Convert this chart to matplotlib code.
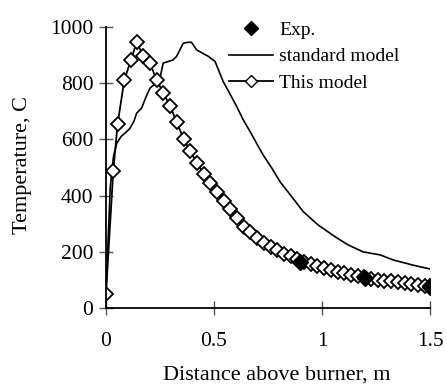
import matplotlib
matplotlib.use('Agg')
import matplotlib.pyplot as plt
from matplotlib.lines import Line2D

plt.rcParams['font.family'] = ['Liberation Serif', 'DejaVu Serif']

# experimental points
expX = [0.9, 1.2, 1.5]
expT = [165, 108, 75]

# standard model curve
stdX = [0, 0.02, 0.035, 0.05, 0.07, 0.088, 0.111, 0.13, 0.142, 0.165, 0.185, 0.204, 0.23, 0.25,
        0.265, 0.289, 0.31, 0.327, 0.358, 0.38, 0.396, 0.42, 0.45, 0.474, 0.505, 0.543, 0.575,
        0.605, 0.635, 0.667, 0.7, 0.728, 0.77, 0.806, 0.86, 0.913, 0.983, 1.06, 1.12, 1.19,
        1.27, 1.33, 1.42, 1.5]
stdT = [50, 430, 540, 586, 610, 622, 639, 665, 693, 711, 750, 782, 800, 817,
        871, 877, 882, 895, 942, 945, 945, 918, 905, 895, 877, 805, 760,
        717, 670, 628, 582, 544, 495, 449, 396, 343, 295, 254, 225, 200,
        189, 171, 153, 139]

# this model (diamonds)
thisX = [0, 0.034, 0.054, 0.085, 0.116, 0.142, 0.173, 0.204, 0.235, 0.266, 0.297, 0.328, 0.359,
         0.39, 0.421, 0.452, 0.483, 0.514, 0.545, 0.576, 0.607, 0.638, 0.669, 0.7, 0.731,
         0.762, 0.793, 0.824, 0.855, 0.886, 0.917, 0.948, 0.979, 1.01, 1.041, 1.072, 1.103,
         1.134, 1.165, 1.196, 1.227, 1.258, 1.289, 1.32, 1.351, 1.382, 1.413, 1.444, 1.475, 1.5]
thisT = [50, 489, 654, 811, 882, 945, 897, 870, 810, 765, 718, 660, 602,
         558, 517, 478, 445, 413, 380, 352, 322, 290, 270, 250, 233,
         218, 205, 194, 184, 175, 163, 155, 148, 141, 135, 129, 124,
         119, 114, 109, 105, 101, 98, 95, 92, 89, 86, 83, 80, 78]

fig = plt.figure(figsize=(4.47, 3.89), dpi=100)
ax = fig.add_axes([0.237, 0.208, 0.725, 0.723])

ax.plot(stdX, stdT, color='k', linewidth=1.2)
ax.plot(thisX, thisT, color='k', linewidth=1.3, marker='D', markersize=6.8,
        markerfacecolor='white', markeredgecolor='k', markeredgewidth=1.3)
ax.plot(expX, expT, linestyle='none', marker='D', markersize=8, color='k')

ax.set_xlim(0, 1.5)
ax.set_ylim(0, 1000)
ax.set_xticks([0, 0.5, 1, 1.5])
ax.set_xticklabels(['0', '0.5', '1', '1.5'])
ax.set_yticks([0, 200, 400, 600, 800, 1000])

for s in ['top', 'right']:
    ax.spines[s].set_visible(False)
for s in ['left', 'bottom']:
    ax.spines[s].set_linewidth(1.3)
    ax.spines[s].set_clip_on(False)

ax.tick_params(axis='both', direction='inout', length=10, width=1, color='#555555',
               labelsize=15.5)
ax.tick_params(axis='x', pad=12)
ax.tick_params(axis='y', pad=4)

fig.text(0.62, 0.035, 'Distance above burner, m', ha='center', va='center', fontsize=16)
fig.text(0.05, 0.575, 'Temperature, C', ha='center', va='center', rotation=90, fontsize=16)

handles = [
    Line2D([], [], linestyle='none', marker='D', markersize=7, color='k'),
    Line2D([], [], color='k', linewidth=1.2),
    Line2D([], [], color='k', linewidth=1.3, marker='D', markersize=6.5,
           markerfacecolor='white', markeredgecolor='k'),
]
fig.legend(handles, ['Exp.', 'standard model', 'This model'], loc='upper left',
           bbox_to_anchor=(0.49, 0.97), frameon=False, fontsize=14, borderpad=0,
           handlelength=2.3, handletextpad=0.3, labelspacing=0.45)

fig.savefig('out.png', dpi=100)
